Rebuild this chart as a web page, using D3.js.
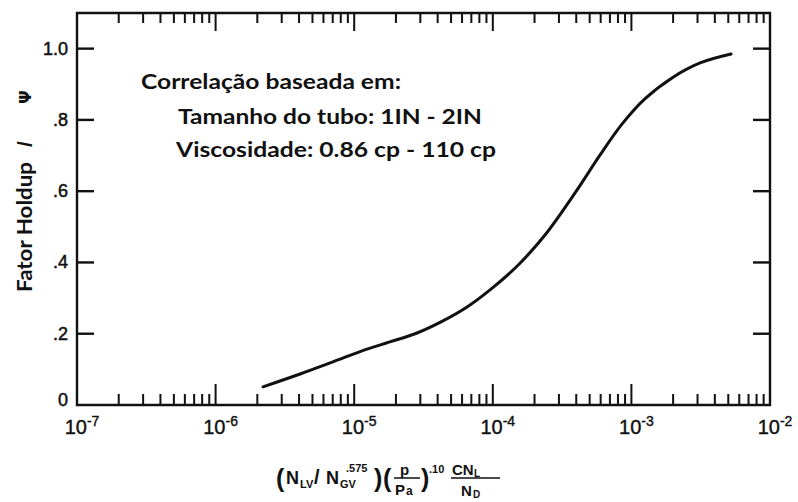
<!DOCTYPE html>
<html>
<head>
<meta charset="utf-8">
<script src="https://cdn.jsdelivr.net/npm/d3@7"></script>
<style>
  html, body { margin: 0; padding: 0; background: #fff; }
  svg { display: block; }
</style>
</head>
<body>
<svg id="chart" width="798" height="502"></svg>
<script>
// Holdup factor correlation curve (psi) against the secondary correlation group
const groupValues  = [2.20e-6, 4.07e-6, 7.03e-6, 1.14e-5, 1.81e-5, 2.84e-5, 4.37e-5, 6.52e-5, 9.55e-5,
                      1.50e-4, 2.38e-4, 3.92e-4, 5.93e-4, 8.55e-4, 1.25e-3, 2.00e-3, 3.13e-3, 5.24e-3];
const holdupValues = [0.051, 0.087, 0.121, 0.152, 0.177, 0.202, 0.236, 0.275, 0.323,
                      0.390, 0.477, 0.595, 0.701, 0.788, 0.859, 0.920, 0.960, 0.985];

const decadeExponents = [-7, -6, -5, -4, -3, -2];
const yTickValues = [0, 0.2, 0.4, 0.6, 0.8, 1.0];
const yTickLabels = ["0", ".2", ".4", ".6", ".8", "1.0"];

const noteLines = [
  "Correlação baseada em:",
  "Tamanho do tubo: 1IN - 2IN",
  "Viscosidade: 0.86 cp - 110 cp"
];
const yTitleMain = "Fator Holdup";
const yTitleSlash = "/";
const yTitleSymbol = "\u03A8";

const ink = "#111";
const svg = d3.select("#chart");

const x = d3.scaleLog().domain([1e-7, 1e-2]).range([77, 770]);
const y = d3.scaleLinear().domain([0, 1.1]).range([405, 13]);
const [x0, x1] = x.range();
const [yB, yT] = y.range();

// frame
svg.append("path")
  .attr("d", `M${x0} ${yT} L${x1} ${yT} L${x1} ${yB} L${x0} ${yB} Z`)
  .attr("fill", "none")
  .attr("stroke", ink)
  .attr("stroke-width", 2.4);

// log ticks: 2..9 inside each decade, plus the inner decade marks
const minorTicks = [];
decadeExponents.slice(0, -1).forEach(e => {
  for (let k = 2; k <= 9; k++) minorTicks.push(k * Math.pow(10, e));
});
const majorTicks = decadeExponents.slice(1, -1).map(e => Math.pow(10, e));
const innerY = yTickValues.filter(v => v > 0);

// tick marks as small filled bars
const tickRects = [];
minorTicks.forEach(v => {
  tickRects.push({ x: x(v) - 1, y: yB - 11, w: 2, h: 11 });
  tickRects.push({ x: x(v) - 1, y: yT, w: 2, h: 10 });
});
majorTicks.forEach(v => {
  tickRects.push({ x: x(v) - 1, y: yB - 21, w: 2, h: 21 });
  tickRects.push({ x: x(v) - 1, y: yT, w: 2, h: 18 });
});
innerY.forEach(v => {
  tickRects.push({ x: x0, y: y(v) - 1.2, w: 17, h: 2.4 });
  tickRects.push({ x: x1 - 17, y: y(v) - 1.2, w: 17, h: 2.4 });
});
svg.append("g").attr("class", "tick-marks").selectAll("rect")
  .data(tickRects)
  .join("rect")
  .attr("x", d => d.x).attr("y", d => d.y)
  .attr("width", d => d.w).attr("height", d => d.h)
  .attr("fill", ink);

// y tick labels
svg.append("g").selectAll("text")
  .data(yTickValues)
  .join("text")
  .attr("x", 68)
  .attr("y", d => y(d) + (d === 0 ? 1 : 6))
  .attr("text-anchor", "end")
  .attr("font-family", "Liberation Sans, Arial, sans-serif")
  .attr("font-size", 18)
  .attr("stroke", ink).attr("stroke-width", 0.5)
  .attr("fill", ink)
  .text((d, i) => yTickLabels[i]);

// x tick labels: 10 with a raised exponent
const xl = svg.append("g").selectAll("text")
  .data(decadeExponents)
  .join("text")
  .attr("x", d => x(Math.pow(10, d)) + 5)
  .attr("y", 434)
  .attr("text-anchor", "middle")
  .attr("font-family", "Liberation Sans, Arial, sans-serif")
  .attr("stroke", ink).attr("stroke-width", 0.4)
  .attr("fill", ink);
xl.append("tspan").attr("font-size", 20).text("10");
xl.append("tspan").attr("font-size", 14).attr("dy", -8).text(d => "-" + Math.abs(d));

// curve
const line = d3.line()
  .x((d, i) => x(groupValues[i]))
  .y(d => y(d))
  .curve(d3.curveCatmullRom.alpha(0.5));
svg.append("path")
  .datum(holdupValues)
  .attr("d", line)
  .style("fill", "none")
  .style("stroke", ink)
  .style("stroke-width", 3)
  .style("stroke-linecap", "round");

// note text
const noteX = [141, 178, 176];
const noteY = [89, 124, 157];
const noteW = [260, 304, 320];
svg.append("g").selectAll("text")
  .data(noteLines)
  .join("text")
  .attr("x", (d, i) => noteX[i])
  .attr("y", (d, i) => noteY[i])
  .attr("font-family", "Lato, 'Open Sans', sans-serif")
  .attr("font-weight", "bold")
  .attr("font-size", 20)
  .attr("textLength", (d, i) => noteW[i])
  .attr("lengthAdjust", "spacingAndGlyphs")
  .attr("fill", ink)
  .text(d => d);

// y axis title
const yt = svg.append("g").attr("transform", "translate(32,0) rotate(-90)").attr("fill", ink);
yt.append("text")
  .attr("x", -292).attr("y", 0)
  .attr("font-family", "Lato, 'Open Sans', sans-serif")
  .attr("font-weight", "bold")
  .attr("font-size", 20)
  .attr("textLength", 130)
  .attr("lengthAdjust", "spacingAndGlyphs")
  .text(yTitleMain);
yt.append("text")
  .attr("x", -147).attr("y", 0)
  .attr("font-family", "Liberation Sans, Arial, sans-serif")
  .attr("font-weight", "bold")
  .attr("font-size", 21)
  .text(yTitleSlash);
yt.append("text")
  .attr("x", -104).attr("y", -1)
  .attr("font-family", "DejaVu Sans, sans-serif")
  .attr("font-weight", "bold")
  .attr("font-size", 16)
  .text(yTitleSymbol);

// x axis title: (N_LV / N_GV^.575)(p/pa)^.10 CN_L/N_D
const tf = "Liberation Sans, Arial, sans-serif";
const xt = svg.append("g").attr("font-family", tf).attr("font-weight", "bold").attr("fill", ink);
const base = 484;
function put(tx, ty, str, size) {
  xt.append("text").attr("x", tx).attr("y", ty).attr("font-size", size).text(str);
}
put(276, base + 3, "(", 25);
put(286, base, "N", 18);
put(300, base + 4, "LV", 11);
put(314, base, "/", 20);
put(326, base, "N", 18);
put(340, base + 4, "GV", 11);
put(346, base - 12, ".575", 11);
put(374, base + 3, ")", 25);
put(383, base + 3, "(", 25);
put(400, base - 9, "p", 15);
put(395, base + 11, "P", 15);
put(406, base + 11, "a", 12);
put(421, base + 3, ")", 25);
put(429, base - 11, ".10", 11);
put(452, base - 9, "CN", 15);
put(474, base - 7, "L", 10);
put(461, base + 12, "N", 15);
put(473, base + 14, "D", 10);
// fraction bars
xt.append("path")
  .attr("d", `M394,${base - 6}H420M451,${base - 6}H500`)
  .style("fill", "none").style("stroke", ink).style("stroke-width", 1.6);
</script>
</body>
</html>
